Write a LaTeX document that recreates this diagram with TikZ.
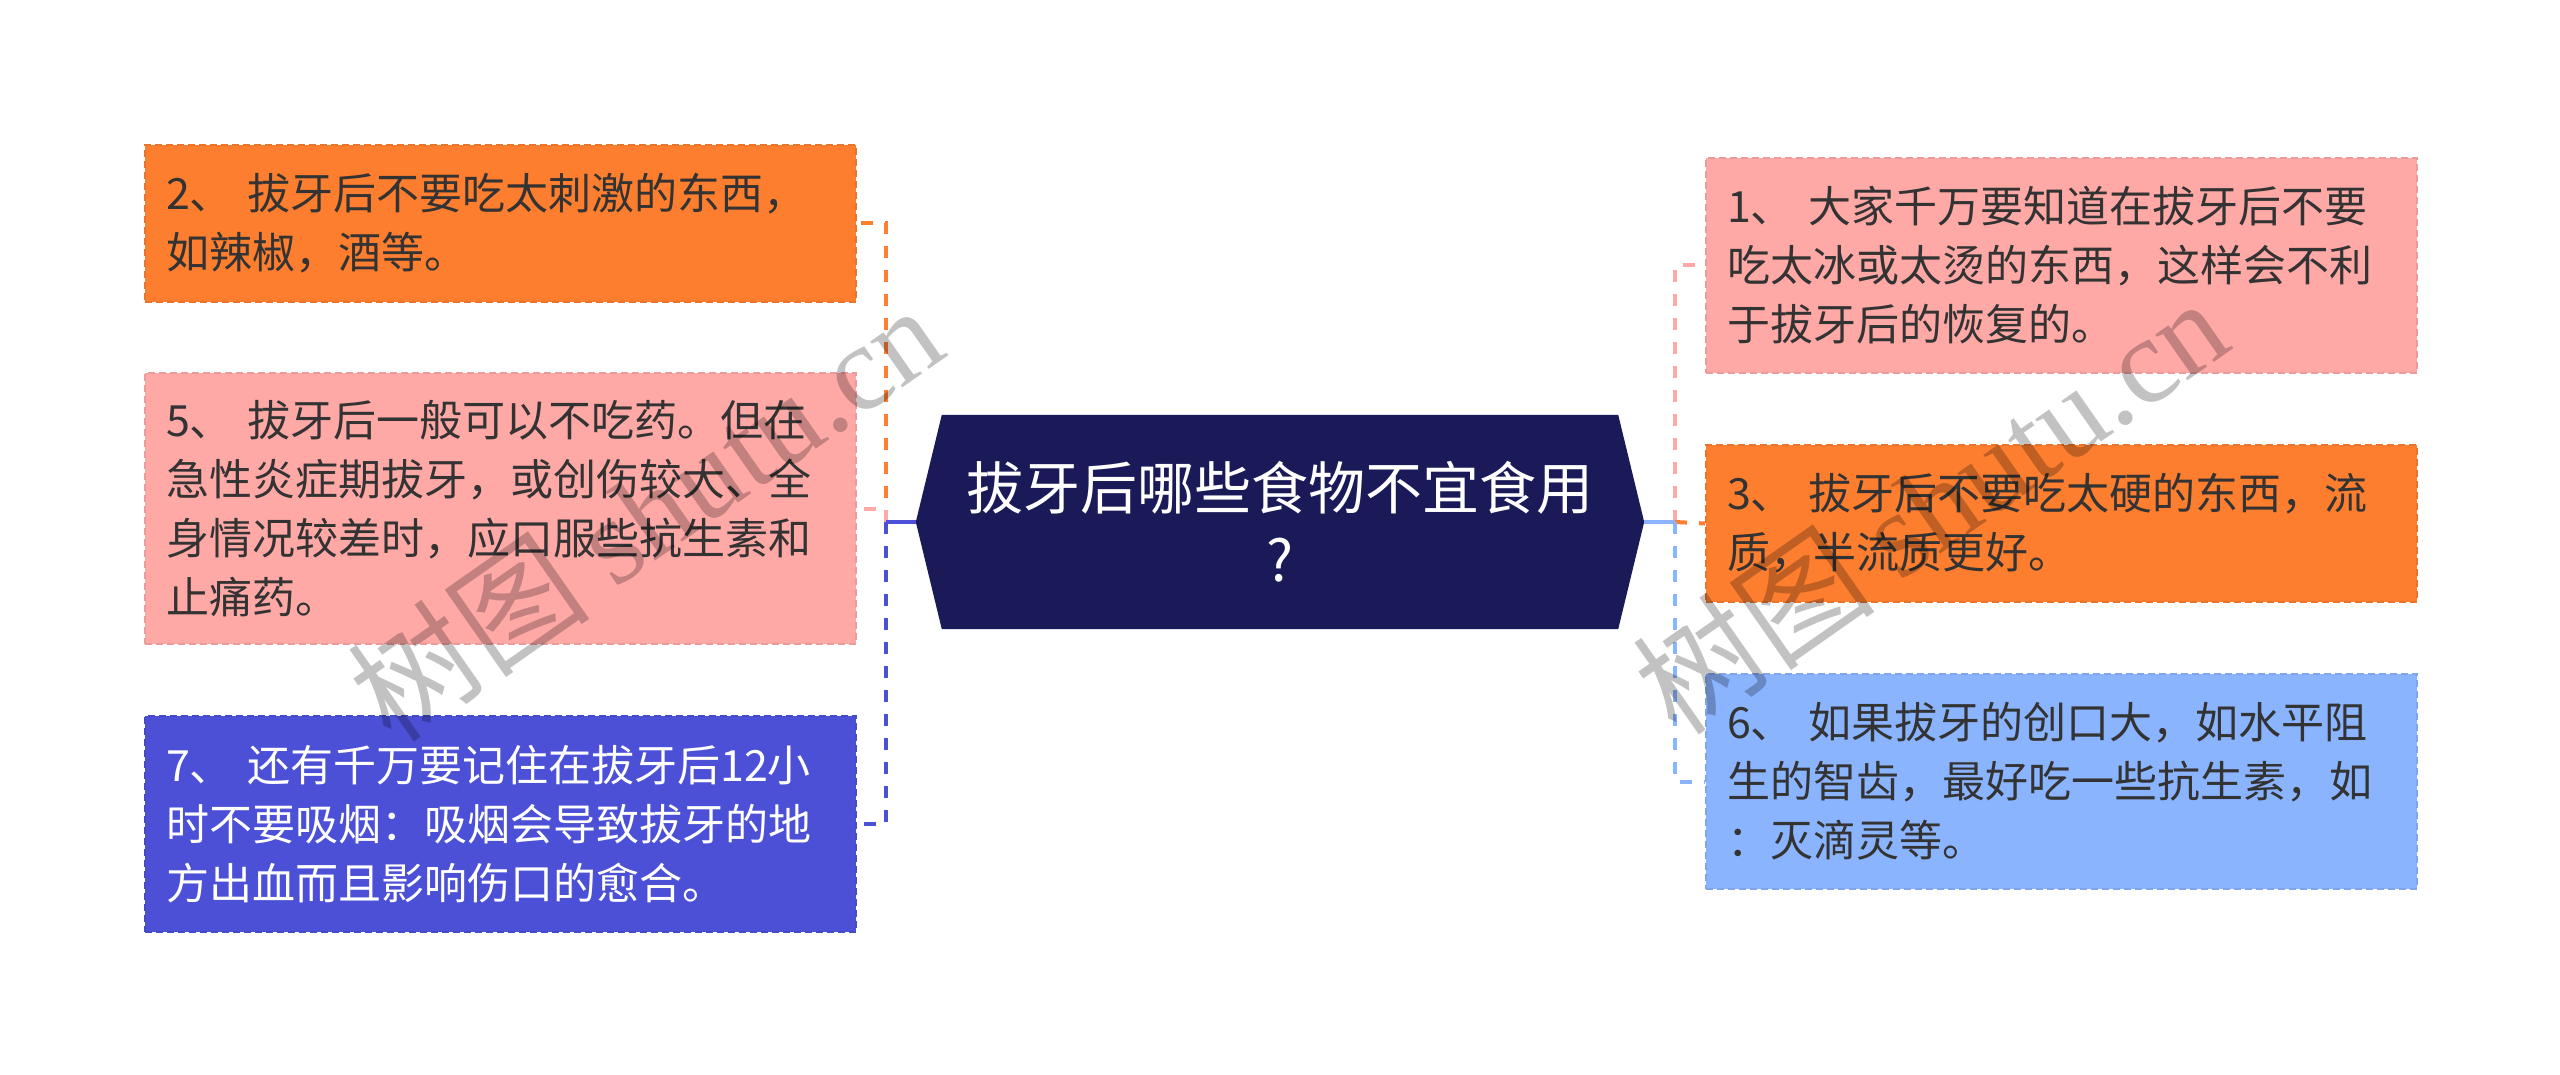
\documentclass[tikz,border=0pt]{standalone}
\usepackage{fontspec}
\setmainfont{Noto Sans CJK SC}
\newfontfamily\wmserif{Liberation Serif}
\usetikzlibrary{calc}
\definecolor{cOrange}{HTML}{FD7E2F}
\definecolor{cPink}{HTML}{FFA9A7}
\definecolor{cPurple}{HTML}{4B50D6}
\definecolor{cLblue}{HTML}{8BB4FE}
\definecolor{cNavy}{HTML}{1B1A59}
\definecolor{cText}{HTML}{333333}
\pgfdeclarelayer{bg}
\pgfsetlayers{bg,main}
\begin{document}
\begin{tikzpicture}[x=1pt,y=-1pt,
  box/.style={draw, dash pattern=on 7pt off 4pt, line width=2pt, inner xsep=21pt, inner ysep=0pt,
    text width=669pt, align=left, minimum width=711pt, anchor=north west,
    font=\fontsize{43}{59}\selectfont, text=cText},
  conn/.style={line width=4pt, dash pattern=on 12pt off 12pt},
  stub/.style={line width=4pt},
  wm/.style={text=black, opacity=0.24, font=\fontsize{122}{122}\selectfont, rotate=35, inner sep=0pt}]
\useasboundingbox (0,0) rectangle (2560,1075);

% central topic
\node[minimum width=728pt, minimum height=214pt, inner sep=0pt, align=center, text=white,
  font=\fontsize{57}{72}\selectfont] (c) at (1280,522) {拔牙后哪些食物不宜食用\\?};
\begin{pgfonlayer}{bg}
\fill[cNavy] (c.west) -- ([xshift=26pt]c.north west) -- ([xshift=-26pt]c.north east) -- (c.east)
  -- ([xshift=-26pt]c.south east) -- ([xshift=26pt]c.south west) -- cycle;
\end{pgfonlayer}

% left boxes
\node[box, fill=cOrange, draw=cOrange!92!black, minimum height=157pt] (b2) at (144,144)
  {2、 拔牙后不要吃太刺激的东西，\\如辣椒，酒等。};
\node[box, fill=cPink, draw=cPink!92!black, minimum height=271pt] (b5) at (144,372)
  {5、 拔牙后一般可以不吃药。但在\\急性炎症期拔牙，或创伤较大、全\\身情况较差时，应口服些抗生素和\\止痛药。};
\node[box, fill=cPurple, draw=cPurple!92!black, minimum height=216pt, text=white] (b7) at (144,715)
  {7、 还有千万要记住在拔牙后12小\\时不要吸烟：吸烟会导致拔牙的地\\方出血而且影响伤口的愈合。};

% right boxes
\node[box, fill=cPink, draw=cPink!92!black, minimum height=215pt] (b1) at (1705,157)
  {1、 大家千万要知道在拔牙后不要\\吃太冰或太烫的东西，这样会不利\\于拔牙后的恢复的。};
\node[box, fill=cOrange, draw=cOrange!92!black, minimum height=157pt] (b3) at (1705,444)
  {3、 拔牙后不要吃太硬的东西，流\\质，半流质更好。};
\node[box, fill=cLblue, draw=cLblue!92!black, minimum height=215pt] (b6) at (1705,673)
  {6、 如果拔牙的创口大，如水平阻\\生的智齿，最好吃一些抗生素，如\\：灭滴灵等。};

% connectors
\coordinate (jl) at (886,522);
\coordinate (jr) at (1675,522);
\draw[conn, cOrange] (jl) |- (b2.east);
\draw[conn, cPink] (jl) |- (b5.east);
\draw[conn, cPurple] (jl) |- (b7.east);
\draw[stub, cPurple] (c.west) -- (jl);
\draw[conn, cPink] (jr) |- (b1.west);
\draw[conn, cOrange] (jr) -- (b3.west);
\draw[conn, cLblue] (jr) |- (b6.west);
\draw[stub, cLblue] (c.east) -- (jr);

% watermarks
\node[wm] (w1) at (645,512) {树图 {\wmserif shutu.cn}};
\node[wm] (w2) at (1930,505) {树图 {\wmserif shutu.cn}};
\end{tikzpicture}
\end{document}
